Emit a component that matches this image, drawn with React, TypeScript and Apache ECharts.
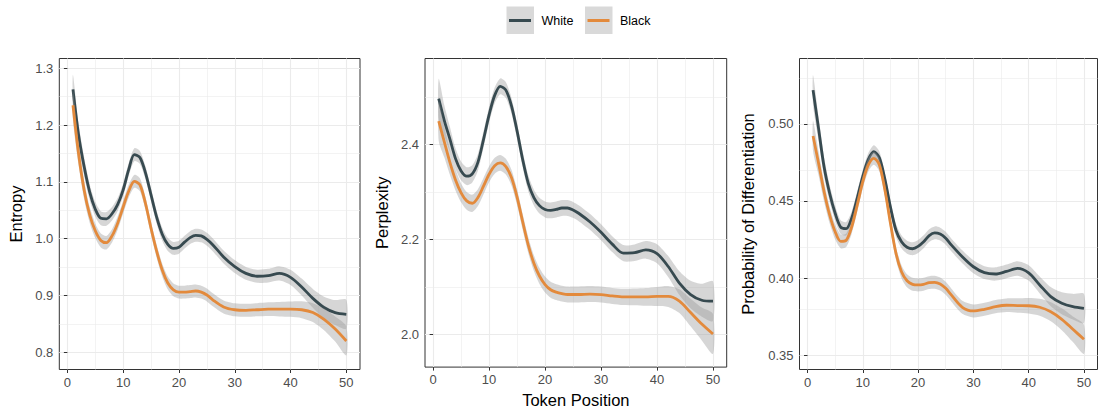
import React, { useEffect, useRef } from "react";
import * as echarts from "echarts";

// ---------- data ----------
const XS = [
  1, 2, 3, 4, 5, 6, 7, 8, 9, 10, 11, 12, 13, 14, 15, 16, 17, 18, 19, 20, 21, 22, 23, 24, 25, 26,
  28, 30, 32, 34, 36, 38, 40, 42, 44, 46, 48, 50,
];

const ENTROPY_WHITE = [
  1.263, 1.183, 1.127, 1.082, 1.052, 1.036, 1.035, 1.044, 1.06, 1.086, 1.122, 1.148, 1.143, 1.116,
  1.077, 1.038, 1.008, 0.99, 0.983, 0.985, 0.994, 1.002, 1.006, 1.005, 0.999, 0.99,
  0.968, 0.951, 0.939, 0.934, 0.935, 0.939, 0.932, 0.915, 0.895, 0.879, 0.87, 0.867,
];
const ENTROPY_BLACK = [
  1.235, 1.15, 1.086, 1.042, 1.014, 0.997, 0.993, 1.005, 1.027, 1.056, 1.084, 1.101, 1.095, 1.062,
  1.018, 0.978, 0.945, 0.922, 0.91, 0.906, 0.906, 0.907, 0.908, 0.906, 0.901, 0.893,
  0.88, 0.875, 0.874, 0.875, 0.876, 0.876, 0.876, 0.875, 0.87, 0.858, 0.841, 0.82,
];
const ENTROPY_CI = [
  0.0255, 0.0202, 0.0167, 0.0141, 0.0129, 0.0123, 0.012, 0.0118, 0.0116, 0.0114, 0.0114, 0.0114,
  0.0114, 0.0114, 0.0114, 0.0114, 0.0114, 0.0114, 0.0114, 0.0114, 0.0114, 0.0114, 0.0114, 0.0114,
  0.0114, 0.0114, 0.0114, 0.0114, 0.0114, 0.0116, 0.012, 0.0127, 0.0135, 0.0148, 0.0165, 0.019,
  0.022, 0.0255,
];

const PERPLEXITY_WHITE = [
  2.496, 2.45, 2.411, 2.37, 2.344, 2.333, 2.338, 2.362, 2.41, 2.462, 2.503, 2.522, 2.514, 2.481,
  2.428, 2.368, 2.318, 2.288, 2.271, 2.263, 2.261, 2.263, 2.266, 2.266, 2.262, 2.255,
  2.237, 2.215, 2.19, 2.171, 2.172, 2.178, 2.17, 2.143, 2.108, 2.084, 2.072, 2.07,
];
const PERPLEXITY_BLACK = [
  2.449, 2.405, 2.362, 2.325, 2.298, 2.281, 2.276, 2.288, 2.312, 2.337, 2.355, 2.361, 2.353, 2.33,
  2.289, 2.237, 2.188, 2.15, 2.123, 2.105, 2.094, 2.089, 2.086, 2.084, 2.084, 2.084,
  2.085, 2.084, 2.081, 2.079, 2.079, 2.079, 2.08, 2.08, 2.07, 2.046, 2.022, 2.001,
];
const PERPLEXITY_CI = [
  0.0418, 0.0324, 0.0261, 0.0219, 0.0198, 0.0188, 0.0182, 0.0177, 0.0173, 0.0167, 0.0167, 0.0167,
  0.0167, 0.0167, 0.0167, 0.0167, 0.0167, 0.0167, 0.0167, 0.0167, 0.0167, 0.0167, 0.0167, 0.0167,
  0.0167, 0.0167, 0.0167, 0.0167, 0.0167, 0.017, 0.0175, 0.0185, 0.02, 0.022, 0.025, 0.029,
  0.0345, 0.0418,
];

const PROB_WHITE = [
  0.522, 0.497, 0.472, 0.455, 0.442, 0.433, 0.432, 0.439, 0.452, 0.466, 0.477, 0.482, 0.478, 0.464,
  0.446, 0.431, 0.4235, 0.42, 0.419, 0.4205, 0.4235, 0.4275, 0.4293, 0.4285, 0.4258, 0.4215,
  0.4138, 0.4073, 0.4035, 0.4026, 0.4043, 0.4062, 0.4033, 0.3955, 0.3879, 0.3836, 0.3814, 0.3803,
];
const PROB_BLACK = [
  0.4922, 0.4745, 0.456, 0.441, 0.43, 0.4238, 0.4245, 0.4333, 0.4474, 0.4625, 0.4734, 0.4777,
  0.4734, 0.4571, 0.4355, 0.416, 0.4041, 0.3982, 0.3959, 0.3955, 0.3959, 0.397, 0.3972, 0.3961,
  0.3933, 0.389, 0.381, 0.3786, 0.3797, 0.3814, 0.3823, 0.3821, 0.382, 0.381, 0.3781, 0.3732,
  0.3667, 0.3602,
];
const PROB_CI = [
  0.0097, 0.0078, 0.0065, 0.0055, 0.0049, 0.0045, 0.0044, 0.0044, 0.0043, 0.0042, 0.0042, 0.0042,
  0.0042, 0.0042, 0.0042, 0.0042, 0.0042, 0.0042, 0.0042, 0.0042, 0.0042, 0.0042, 0.0042, 0.0042,
  0.0042, 0.0042, 0.0042, 0.0042, 0.0042, 0.0043, 0.0044, 0.0047, 0.005, 0.0055, 0.0062, 0.0071,
  0.0083, 0.0095,
];

const X_TICKS = [0, 10, 20, 30, 40, 50];
const X_MINOR = [5, 15, 25, 35, 45];

const ENTROPY_TICKS = [0.8, 0.9, 1.0, 1.1, 1.2, 1.3];
const ENTROPY_MINOR = [0.85, 0.95, 1.05, 1.15, 1.25];
const PERPLEXITY_TICKS = [2.0, 2.2, 2.4];
const PERPLEXITY_MINOR = [2.1, 2.3, 2.5];
const PROB_TICKS = [0.35, 0.4, 0.45, 0.5];
const PROB_MINOR = [0.375, 0.425, 0.475, 0.525];

const GROUPS = ["White", "Black"];
const X_TITLE = "Token Position";

// ---------- styles / layout ----------
const FONT = "'Liberation Sans', Arial, Helvetica, sans-serif";
const COLORS: Record<string, string> = { White: "#374a50", Black: "#e38a3c" };
const BAND = "rgba(153,153,153,0.4)";
const GRID_MAJOR = "#ebebeb";
const BORDER = "#333333";
const TICK_TEXT = "#4d4d4d";
const TICK_FONT = 13;
const TITLE_FONT = 16.5;

const PANELS = [
  {
    title: "Entropy",
    white: ENTROPY_WHITE,
    black: ENTROPY_BLACK,
    ci: ENTROPY_CI,
    ticks: ENTROPY_TICKS,
    minor: ENTROPY_MINOR,
    digits: 1,
    yMin: 0.7698,
    yMax: 1.3173,
    left: 59.3,
    width: 300.7,
    nameGap: 35,
  },
  {
    title: "Perplexity",
    white: PERPLEXITY_WHITE,
    black: PERPLEXITY_BLACK,
    ci: PERPLEXITY_CI,
    ticks: PERPLEXITY_TICKS,
    minor: PERPLEXITY_MINOR,
    digits: 1,
    yMin: 1.9313,
    yMax: 2.5806,
    left: 425,
    width: 301.7,
    nameGap: 35,
  },
  {
    title: "Probability of Differentiation",
    white: PROB_WHITE,
    black: PROB_BLACK,
    ci: PROB_CI,
    ticks: PROB_TICKS,
    minor: PROB_MINOR,
    digits: 2,
    yMin: 0.3406,
    yMax: 0.5425,
    left: 799.5,
    width: 298,
    nameGap: 43,
  },
];

const GRID_TOP = 58.5;
const GRID_HEIGHT = 311;

function bandRenderer(rows: number[][]) {
  return (params: any, api: any) => {
    if (params.dataIndex !== 0) return null;
    const upper = rows.map((r) => api.coord([r[0], r[2]]));
    const lower = rows.map((r) => api.coord([r[0], r[1]])).reverse();
    return {
      type: "polygon",
      shape: { points: upper.concat(lower), smooth: 0.25 },
      style: { fill: BAND, stroke: "none" },
      silent: true,
    };
  };
}

function buildOption() {
  const grid: any[] = [];
  const xAxis: any[] = [];
  const yAxis: any[] = [];
  const series: any[] = [];

  PANELS.forEach((p, i) => {
    grid.push({
      left: p.left,
      top: GRID_TOP,
      width: p.width,
      height: GRID_HEIGHT,
      show: true,
      borderColor: BORDER,
      borderWidth: 1,
      backgroundColor: "transparent",
      containLabel: false,
    });
    xAxis.push({
      type: "value",
      gridIndex: i,
      min: -1.45,
      max: 52.45,
      axisLine: { show: false },
      axisTick: {
        show: true,
        length: 3.5,
        customValues: X_TICKS,
        lineStyle: { color: BORDER, width: 1 },
      },
      axisLabel: {
        customValues: X_TICKS,
        color: TICK_TEXT,
        fontSize: TICK_FONT,
        fontFamily: FONT,
        margin: 6,
      },
      splitLine: { show: true, lineStyle: { color: GRID_MAJOR, width: 1.1 } },
      name: i === 1 ? X_TITLE : "",
      nameLocation: "middle",
      nameGap: 22,
      nameTextStyle: { color: "#000", fontSize: TITLE_FONT, fontFamily: FONT, verticalAlign: "top" },
    });
    yAxis.push({
      type: "value",
      gridIndex: i,
      min: p.yMin,
      max: p.yMax,
      axisLine: { show: false },
      axisTick: {
        show: true,
        length: 3.5,
        customValues: p.ticks,
        lineStyle: { color: BORDER, width: 1 },
      },
      axisLabel: {
        customValues: p.ticks,
        color: TICK_TEXT,
        fontSize: TICK_FONT,
        fontFamily: FONT,
        margin: 6,
        formatter: (v: number) => v.toFixed(p.digits),
      },
      splitLine: { show: true, lineStyle: { color: GRID_MAJOR, width: 1.1 } },
      name: p.title,
      nameLocation: "middle",
      nameGap: p.nameGap,
      nameTextStyle: { color: "#000", fontSize: TITLE_FONT, fontFamily: FONT },
    });

    // minor grid lines
    series.push({
      type: "line",
      name: `minor-${i}`,
      xAxisIndex: i,
      yAxisIndex: i,
      data: [],
      silent: true,
      markLine: {
        silent: true,
        z: 1,
        symbol: ["none", "none"],
        label: { show: false },
        lineStyle: { color: GRID_MAJOR, width: 0.6, type: "solid" },
        data: [
          ...X_MINOR.map((v) => ({ xAxis: v })),
          ...p.minor.map((v) => ({ yAxis: v })),
        ],
      },
    });

    GROUPS.forEach((g, gi) => {
      const vals = g === "White" ? p.white : p.black;
      const rows = XS.map((x, j) => [x, vals[j] - p.ci[j], vals[j] + p.ci[j]]);
      series.push({
        type: "custom",
        name: `${g}-band-${i}`,
        xAxisIndex: i,
        yAxisIndex: i,
        data: rows,
        encode: { x: 0, y: [1, 2] },
        renderItem: bandRenderer(rows),
        silent: true,
        z: 2 + gi * 2,
      });
      series.push({
        type: "line",
        name: g,
        xAxisIndex: i,
        yAxisIndex: i,
        data: XS.map((x, j) => [x, vals[j]]),
        symbol: "none",
        smooth: 0.3,
        lineStyle: { color: COLORS[g], width: 2.8 },
        z: 3 + gi * 2,
      });
    });
  });

  const legendKeys = [
    { g: "White", x: 506.5, textX: 541.5 },
    { g: "Black", x: 585, textX: 620 },
  ];
  const graphic: any[] = [];
  legendKeys.forEach((k) => {
    graphic.push({
      type: "rect",
      shape: { x: k.x, y: 6.5, width: 27.5, height: 27.5 },
      style: { fill: "#d9d9d9" },
    });
    graphic.push({
      type: "line",
      shape: { x1: k.x + 2.5, y1: 20.5, x2: k.x + 24.5, y2: 20.5 },
      style: { stroke: COLORS[k.g], lineWidth: 3 },
    });
    graphic.push({
      type: "text",
      x: k.textX,
      y: 20.5,
      style: {
        text: k.g,
        fontSize: 12.5,
        fontFamily: FONT,
        fill: "#000",
        verticalAlign: "middle",
        align: "left",
      },
    });
  });

  return {
    animation: false,
    backgroundColor: "#ffffff",
    textStyle: { fontFamily: FONT },
    grid,
    xAxis,
    yAxis,
    series,
    graphic,
  };
}

export default function App() {
  const ref = useRef<HTMLDivElement>(null);
  useEffect(() => {
    if (!ref.current) return;
    const chart = echarts.init(ref.current, undefined, { renderer: "svg" });
    chart.setOption(buildOption() as any);
    return () => chart.dispose();
  }, []);
  return (
    <div
      ref={ref}
      style={{ position: "absolute", left: 0, top: 0, width: 1099, height: 413, background: "#fff" }}
    />
  );
}
